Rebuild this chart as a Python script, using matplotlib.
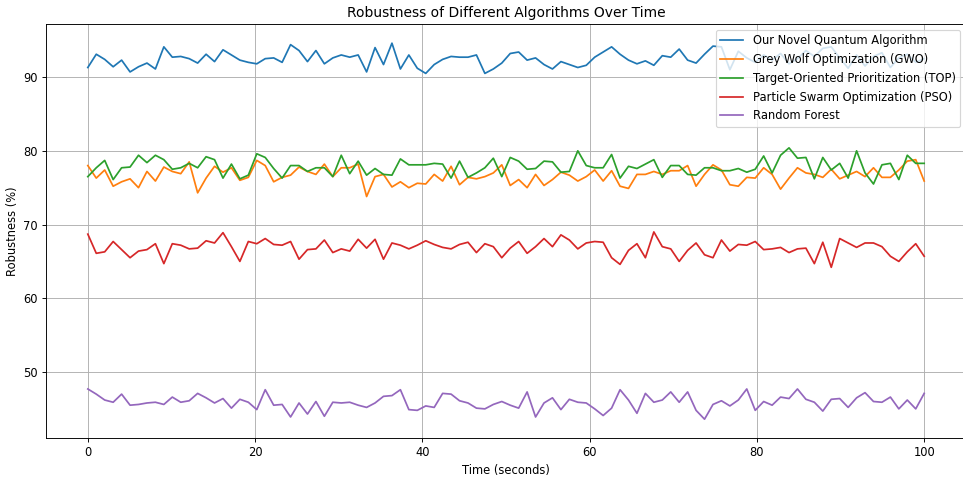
import numpy as np
import matplotlib.pyplot as plt

time = np.linspace(0, 100, 100)

quantum = [91.3, 93.1, 92.4, 91.4, 92.3, 90.7, 91.4, 91.9, 91.1, 94.1,
           92.7, 92.8, 92.5, 91.9, 93.1, 92.1, 93.7, 93.0, 92.3, 92.0,
           91.8, 92.5, 92.6, 92.0, 94.4, 93.6, 92.1, 93.6, 91.8, 92.6,
           93.0, 92.7, 93.0, 90.7, 94.0, 91.7, 94.6, 91.1, 93.0, 91.2,
           90.5, 91.7, 92.4, 92.8, 92.7, 92.7, 93.0, 90.5, 91.1, 91.9,
           93.2, 93.4, 92.3, 92.6, 91.7, 91.1, 92.1, 91.7, 91.3, 91.6,
           92.7, 93.4, 94.1, 93.1, 92.3, 91.8, 92.2, 91.6, 92.9, 92.7,
           93.8, 92.3, 91.9, 93.1, 94.2, 94.1, 91.0, 93.5, 92.6, 92.0,
           93.0, 92.3, 93.2, 91.8, 92.5, 93.6, 92.8, 93.9, 94.1, 92.6,
           91.2, 93.0, 91.5, 92.8, 93.3, 91.3, 92.6, 93.1, 92.0, 92.5]

gwo = [78.0, 76.3, 77.4, 75.2, 75.8, 76.2, 75.0, 77.2, 75.9, 77.8,
       77.2, 76.9, 78.5, 74.3, 76.3, 77.9, 77.1, 77.7, 76.0, 76.4,
       78.7, 78.0, 75.8, 76.4, 76.7, 77.8, 77.2, 76.8, 78.2, 76.5,
       77.7, 77.7, 78.2, 73.8, 76.5, 76.8, 75.1, 75.8, 75.0, 75.6,
       75.5, 76.8, 75.9, 77.9, 75.4, 76.4, 76.2, 76.5, 77.0, 78.1,
       75.3, 76.1, 75.0, 76.8, 75.3, 76.1, 77.1, 76.7, 75.9, 76.5,
       77.4, 75.9, 77.3, 75.2, 74.9, 76.8, 76.8, 77.2, 76.8, 77.3,
       77.3, 78.0, 75.2, 76.8, 78.1, 77.4, 75.4, 75.2, 76.4, 76.3,
       77.7, 76.8, 74.8, 76.3, 77.7, 77.0, 76.8, 76.4, 77.5, 76.2,
       76.7, 77.2, 76.5, 77.7, 76.4, 76.4, 77.4, 78.6, 78.8, 75.9]

top = [76.5, 77.7, 78.7, 76.1, 77.7, 77.8, 79.4, 78.4, 79.4, 78.8,
       77.5, 77.7, 78.3, 77.7, 79.2, 78.8, 76.3, 78.2, 76.2, 76.7,
       79.6, 79.1, 77.6, 76.3, 78.0, 78.0, 77.2, 77.7, 77.7, 76.5,
       79.4, 76.9, 78.6, 76.7, 77.6, 76.8, 76.7, 78.9, 78.1, 78.1,
       78.1, 78.3, 78.2, 76.3, 78.6, 76.4, 77.0, 77.7, 79.0, 76.5,
       79.1, 78.6, 77.5, 77.6, 78.6, 78.5, 77.1, 77.2, 80.0, 78.0,
       77.7, 77.7, 79.5, 76.3, 77.9, 77.6, 78.2, 78.8, 76.4, 78.0,
       78.0, 76.8, 76.7, 77.7, 77.7, 77.3, 77.3, 77.6, 77.1, 77.5,
       79.3, 77.0, 79.4, 80.4, 79.0, 79.1, 76.2, 79.1, 77.4, 78.3,
       76.3, 80.0, 77.0, 75.5, 78.1, 78.3, 76.1, 79.4, 78.3, 78.3]

pso = [68.7, 66.1, 66.3, 67.7, 66.6, 65.5, 66.4, 66.6, 67.4, 64.7,
       67.4, 67.2, 66.7, 66.8, 67.8, 67.5, 68.9, 67.0, 65.0, 67.7,
       67.4, 68.1, 67.3, 67.2, 67.7, 65.3, 66.6, 66.7, 67.9, 66.2,
       66.7, 66.4, 68.0, 66.8, 68.0, 65.3, 67.5, 67.2, 66.7, 67.2,
       67.8, 67.3, 66.9, 66.7, 67.3, 67.6, 66.2, 67.4, 67.0, 65.5,
       66.8, 67.7, 66.1, 67.0, 68.1, 67.0, 68.6, 67.9, 66.7, 67.5,
       67.7, 67.6, 65.5, 64.6, 66.5, 67.4, 65.5, 69.0, 67.0, 66.7,
       65.0, 66.5, 67.5, 65.9, 65.5, 67.9, 66.4, 67.3, 67.2, 67.7,
       66.6, 66.7, 66.9, 66.2, 66.7, 66.8, 64.7, 67.6, 64.2, 68.1,
       67.5, 66.9, 67.5, 67.5, 67.0, 65.7, 65.0, 66.3, 67.4, 65.7]

rf = [47.7, 47.0, 46.2, 45.9, 47.0, 45.5, 45.6, 45.8, 45.9, 45.6,
      46.6, 45.9, 46.1, 47.1, 46.5, 45.8, 46.4, 45.1, 46.3, 45.9,
      44.9, 47.6, 45.5, 45.6, 43.9, 45.8, 44.3, 46.0, 44.0, 45.9,
      45.8, 45.9, 45.5, 45.2, 45.8, 46.7, 46.8, 47.6, 44.9, 44.8,
      45.4, 45.2, 47.1, 47.0, 46.1, 45.8, 45.1, 45.0, 45.6, 46.0,
      45.5, 45.1, 47.3, 43.9, 45.8, 46.5, 44.9, 46.3, 45.9, 45.8,
      45.0, 44.1, 45.1, 47.6, 46.2, 44.4, 47.1, 45.9, 46.2, 47.3,
      45.9, 47.3, 44.8, 43.6, 45.6, 46.1, 45.4, 46.2, 47.7, 44.8,
      46.0, 45.5, 46.6, 46.4, 47.7, 46.3, 45.9, 44.7, 46.3, 46.4,
      45.2, 46.5, 47.2, 46.0, 45.9, 46.6, 45.0, 46.2, 45.0, 47.1]

labels = ["Our Novel Quantum Algorithm", "Grey Wolf Optimization (GWO)",
          "Target-Oriented Prioritization (TOP)", "Particle Swarm Optimization (PSO)",
          "Random Forest"]

# the reference looks like a larger figure scaled down, so draw at a lower dpi
dpi = 83
fig = plt.figure(figsize=(963 / dpi, 478 / dpi), dpi=dpi)
ax = fig.add_axes([46 / 963, 1 - 438 / 478, 920 / 963, 414 / 478])

for series, lab in zip([quantum, gwo, top, pso, rf], labels):
    ax.plot(time, series, label=lab)

ax.set_xlim(-5, 105)
ax.set_ylim(41.05, 97.2)
ax.set_title("Robustness of Different Algorithms Over Time")
ax.set_xlabel("Time (seconds)")
ax.set_ylabel("Robustness (%)")
ax.legend(loc="upper right")
ax.grid(True)

fig.savefig("out.png", dpi=dpi)
